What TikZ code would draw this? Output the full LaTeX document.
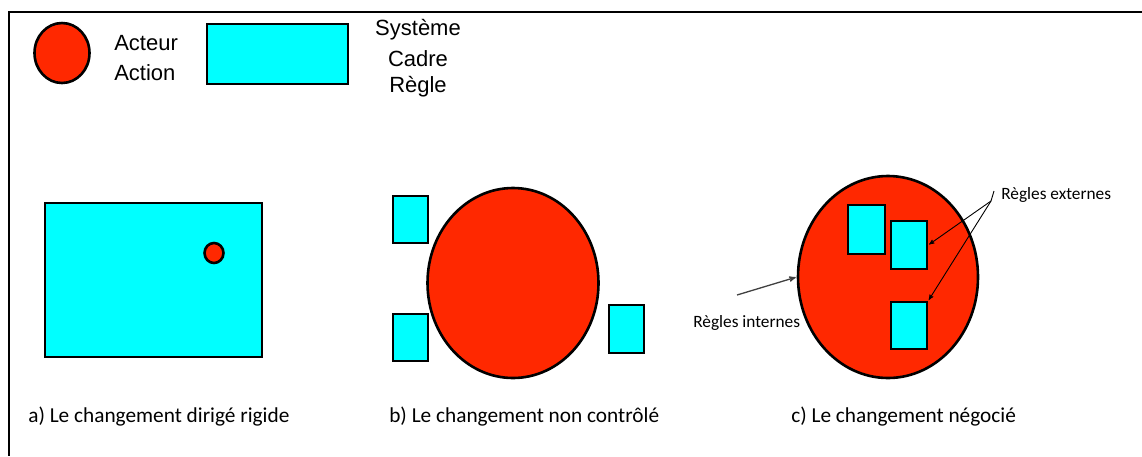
\documentclass[tikz,border=0pt]{standalone}
\usepackage{fontspec}
\setmainfont{Carlito}
\newfontfamily\legendfont{Liberation Sans}
\usetikzlibrary{arrows,shapes.geometric}
\definecolor{acteurred}{RGB}{255,40,0}
\definecolor{regcyan}{RGB}{0,255,255}

\begin{document}
\begin{tikzpicture}[
                        x=1pt,
                        y=-1pt,
                        >=stealth',
                        line width=2.6pt,
                        acteur/.style={ellipse,draw=black,fill=acteurred,inner sep=0pt},
                        regle/.style={rectangle,draw=black,fill=regcyan,inner sep=0pt},
                        legende/.style={font=\legendfont\fontsize{22}{26}\selectfont,inner sep=0pt},
                        titre/.style={font=\fontsize{21.3}{25}\selectfont,anchor=west,inner sep=0pt},
                        note/.style={font=\fontsize{17.3}{20}\selectfont,inner sep=0pt},
                        fleche/.style={->,line width=0.9pt,shorten >=1pt}
                    ]
                    \useasboundingbox (0,0) rectangle (1142,456);
                    \draw[line width=2pt] (1142,12) -- (9,12) -- (9,456);

                    % legende
                    \node[acteur,minimum width=55,minimum height=60] (LA) at (62,53)  {} ;
                    \node[legende,anchor=west] (LA1) at (113,43) {Acteur} ;
                    \node[legende,anchor=west] (LA2) at (113,73) {Action} ;
                    \node[regle,minimum width=141,minimum height=60] (LR) at (277.5,54) {} ;
                    \node[legende] (LR1) at (418,30) {Système} ;
                    \node[legende] (LR2) at (418,59) {Cadre} ;
                    \node[legende] (LR3) at (418,87) {Règle} ;

                    % a) dirige rigide
                    \node[regle,minimum width=217,minimum height=154] (RA) at (153.5,280) {} ;
                    \node[acteur,minimum width=19,minimum height=20] (CA) at (214,253) {} ;
                    \node[titre] (TA) at (27,417) {a) Le changement dirigé rigide} ;

                    % b) non controle
                    \node[acteur,minimum width=171,minimum height=190] (CB) at (513,283) {} ;
                    \node[regle,minimum width=35,minimum height=47] (RB1) at (410.5,219.5) {} ;
                    \node[regle,minimum width=35,minimum height=47] (RB2) at (410.5,337.5) {} ;
                    \node[regle,minimum width=35,minimum height=48] (RB3) at (626.5,329) {} ;
                    \node[titre] (TB) at (388,417) {b) Le changement non contrôlé} ;

                    % c) negocie
                    \node[acteur,minimum width=180,minimum height=202] (CC) at (888,277) {} ;
                    \node[regle,minimum width=37,minimum height=49] (RC1) at (866.5,229.5) {} ;
                    \node[regle,minimum width=36,minimum height=48] (RC2) at (909,245) {} ;
                    \node[regle,minimum width=36,minimum height=47] (RC3) at (909,325.5) {} ;
                    \node[titre] (TC) at (790,417) {c) Le changement négocié} ;

                    \node[note,anchor=west] (EXT) at (1000,195) {Règles externes} ;
                    \node[note,anchor=west] (INT) at (692,323) {Règles internes} ;
                    \coordinate (F) at (991,201) ;
                    \coordinate (G) at (737,295) ;

                    \draw[line width=0.9pt] (F) -- (994,191) ;
                    \draw[fleche] (F) -- (RC2.east) ;
                    \draw[fleche] (F) -- (RC3.north east) ;
                    \draw[fleche,line width=1.3pt,black!75] (G) -- (CC.west) ;

                \end{tikzpicture}
\end{document}
